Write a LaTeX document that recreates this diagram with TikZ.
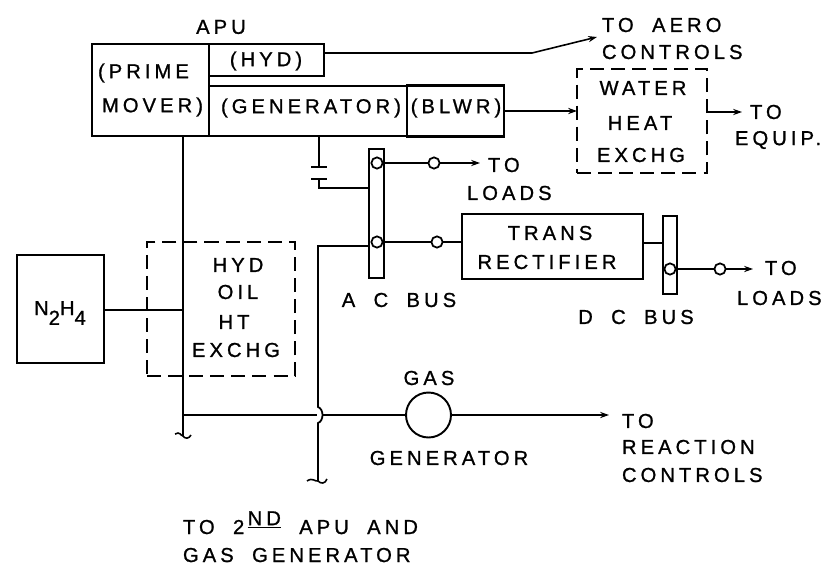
\documentclass[tikz,border=0pt]{standalone}
\usepackage{fontspec}
\usepackage{xcolor}
\newfontfamily\lblfont[LetterSpace=20,FakeBold=1,WordSpace=1.9]{Liberation Sans}
\usetikzlibrary{calc,positioning,arrows.meta}
\tikzset{
  lbl/.style={font=\lblfont\fontsize{11.5}{14.5}\selectfont, inner sep=0pt, outer sep=0pt, align=center},
  solidbox/.style={draw, line width=1.35pt, inner sep=0pt, outer sep=0pt},
  dashbox/.style={draw, line width=1.5pt, dash pattern=on 8pt off 4pt, inner sep=0pt, outer sep=0pt},
  wire/.style={line width=0.9pt},
  feed/.style={wire, -{Stealth[length=5pt,width=3.5pt]}},
  term/.style={circle, draw, line width=1pt, fill=white, minimum size=6.4pt, inner sep=0pt, outer sep=0pt},
}
\newcommand{\subnum}[1]{\raisebox{-5.5pt}{#1}}
\begin{document}
\begin{tikzpicture}[x=0.02cm, y=-0.02cm]
  \useasboundingbox (0,0) rectangle (831,571);

  % APU boxes
  \node[solidbox, minimum width=2.34cm, minimum height=1.84cm] (prime) at (150.5,90) {};
  \node[solidbox, minimum width=2.30cm, minimum height=0.64cm] (hyd) at (266.5,60) {};
  \node[solidbox, minimum width=3.96cm, minimum height=1.00cm] (gen) at (308,111) {};
  \node[solidbox, minimum width=1.94cm, minimum height=1.02cm] (blwr) at (455.5,111) {};
  \node[lbl] (apu) at (221,27) {APU};
  \node[lbl, anchor=west] (primetxt) at (98,73) {(PRIME};
  \node[lbl, anchor=west] (movertxt) at (102,107) {MOVER)};
  \node[lbl] (hydtxt) at (266,61) {(HYD)};
  \node[lbl] (gentxt) at (311,108) {(GENERATOR)};
  \node[lbl] (blwrtxt) at (456,108) {(BLWR)};

  % Heat exchangers and other boxes
  \node[dashbox, minimum width=2.60cm, minimum height=2.08cm] (water) at (642,121) {};
  \node[lbl] (watertxt) at (643,88) {WATER};
  \node[lbl] (heattxt) at (640,123) {HEAT};
  \node[lbl] (exchgtxt) at (641,155) {EXCHG};
  \node[dashbox, minimum width=2.96cm, minimum height=2.68cm] (oil) at (221,309) {};
  \node[lbl] (hydoil) at (238,265) {HYD};
  \node[lbl] (oiltxt) at (238,292) {OIL};
  \node[lbl] (httxt) at (234,322) {HT};
  \node[lbl] (oilex) at (236,350) {EXCHG};
  \node[solidbox, minimum width=1.74cm, minimum height=2.16cm] (fuel) at (60.5,309) {};
  \node[lbl] (fueltxt) at (60,313) {N\subnum{2}H\subnum{4}};
  \node[solidbox, minimum width=3.62cm, minimum height=1.30cm] (trans) at (552.5,246.5) {};
  \node[lbl] (transtxt) at (550,233) {TRANS};
  \node[lbl] (recttxt) at (547,262) {RECTIFIER};

  % Buses
  \node[solidbox, minimum width=0.30cm, minimum height=2.58cm] (acbus) at (376.5,213.5) {};
  \node[solidbox, minimum width=0.28cm, minimum height=1.56cm] (dcbus) at (670,255) {};
  \node[lbl] (actxt) at (399,300) {A C BUS};
  \node[lbl] (dctxt) at (636,317) {D C BUS};

  % Terminals
  \coordinate (acupper) at (377,163);
  \coordinate (aclower) at (377,242);
  \coordinate (dcout) at (670,269);
  \coordinate (aerobend) at (532,53);
  \coordinate (aeroend) at (597,37);
  \coordinate (equipend) at (742,112);
  \coordinate (loadsa) at (480,163);
  \coordinate (loadsb) at (753,269);
  \coordinate (reactend) at (609,415);
  \coordinate (fueltee) at (183,310);

  % Wires
  \draw[feed] (hyd.east |- 0,53) -- (aerobend) -- (aeroend);
  \draw[feed] (blwr.east) -- (water.west |- blwr.east);
  \draw[feed] (water.east |- equipend) -- (equipend);
  \draw[wire] (fuel.east |- fueltee) -- (fueltee);
  \draw[wire] (trans.east |- 0,243) -- (dcbus.west |- 0,243);
  \draw[feed] (acupper) -- (loadsa);
  \draw[wire] (aclower) -- (trans.west |- aclower);
  \draw[feed] (dcout) -- (loadsb);

  % Capacitor off the generator
  \coordinate (capa) at (319,167);
  \coordinate (capb) at (319,179);
  \draw[wire] (gen.south -| capa) -- (capa);
  \draw[line width=1.1pt] ($(capa)+(-8,0)$) -- ($(capa)+(8,0)$);
  \draw[line width=1.1pt] ($(capb)+(-8,0)$) -- ($(capb)+(8,0)$);
  \draw[wire] (capb) -- (319,188) -- (acbus.west |- 0,188);

  \foreach \name/\pos in {t1/acupper, t2/aclower, t5/dcout}{
    \node[term] (\name) at (\pos) {};
  }
  \node[term] (t3) at (434,163) {};
  \node[term] (t4) at (437,242) {};
  \node[term] (t6) at (720,269) {};

  % Gas generator and the feed lines
  \node[circle, draw, line width=1.1pt, fill=white, minimum size=0.90cm, inner sep=0pt, outer sep=0pt] (gas) at (428.5,415) {};
  \node[lbl] (gastxt) at (429,378) {GAS};
  \node[lbl] (gasgen) at (449,458) {GENERATOR};
  \coordinate (cross) at (318,415);
  \coordinate (breaka) at (183,436);
  \coordinate (breakb) at (318,481);
  \draw[wire] (prime.south -| breaka) -- (breaka);
  \draw[wire] (breaka |- cross) -- ($(cross)+(-1,0)$);
  \draw[wire] ($(cross)+(5,0)$) -- (gas.west);
  \draw[feed] (gas.east) -- (reactend);
  \draw[wire, line width=1pt] (acbus.west |- 0,246) -- (318,246) -- (318,407)
    .. controls (324,409) and (324,421) .. (318,423) -- (breakb);
  \draw[wire] ($(breaka)+(-8,-2)$) .. controls ($(breaka)+(-3,-5)$) and ($(breaka)+(-2,0)$) .. (breaka)
    .. controls ($(breaka)+(2,3)$) and ($(breaka)+(6,3)$) .. ($(breaka)+(8,-1)$);
  \draw[wire] ($(breakb)+(-11,0)$) .. controls ($(breakb)+(-5,-4)$) and ($(breakb)+(-3,1)$) .. (breakb)
    .. controls ($(breakb)+(3,3)$) and ($(breakb)+(7,3)$) .. ($(breakb)+(9,-2)$);

  % Destination labels
  \node[lbl, anchor=west] (aeroa) at (602,25) {TO AERO};
  \node[lbl, anchor=west] (aerob) at (602,52) {CONTROLS};
  \node[lbl, anchor=west] (equipa) at (750,112) {TO};
  \node[lbl, anchor=west] (equipb) at (735,140) {EQUIP.};
  \node[lbl, anchor=west] (loada) at (488,165) {TO};
  \node[lbl, anchor=west] (loadb) at (467,193) {LOADS};
  \node[lbl, anchor=west] (loadc) at (765,268) {TO};
  \node[lbl, anchor=west] (loadd) at (737,298) {LOADS};
  \node[lbl, anchor=west] (reacta) at (622,421) {TO};
  \node[lbl, anchor=west] (reactb) at (622,447) {REACTION};
  \node[lbl, anchor=west] (reactc) at (622,475) {CONTROLS};
  \node[lbl, anchor=base west] (seconda) at (183,534) {TO 2\,\raisebox{5pt}{\underline{ND}} APU AND};
  \node[lbl, anchor=base west] (secondb) at (183,562) {GAS GENERATOR};
\end{tikzpicture}
\end{document}
